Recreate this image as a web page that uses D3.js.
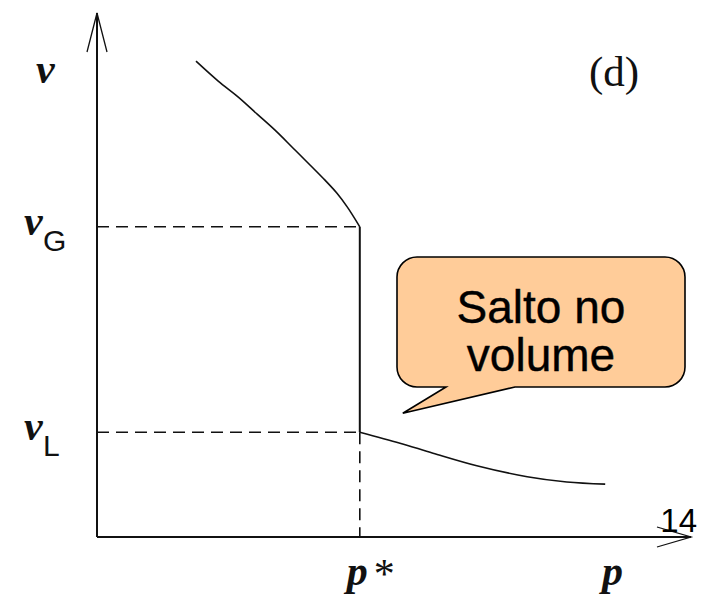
<!DOCTYPE html>
<html>
<head>
<meta charset="utf-8">
<script src="https://cdn.jsdelivr.net/npm/d3@7/dist/d3.min.js"></script>
<style>
  html, body { margin: 0; padding: 0; background: #fff; }
  svg { display: block; }
</style>
</head>
<body>
<svg id="chart" width="701" height="605"></svg>
<script>
// p–v diagram: gas branch above the transition pressure, liquid branch below it,
// with the vertical jump in volume at p*.
const gasP = [16.5, 20.2, 23.5, 26.7, 29.8, 32.7, 35.5, 38.0, 40.0, 41.7, 43.8];
const gasV = [90.8, 87.0, 84.0, 80.7, 77.5, 74.2, 71.0, 68.1, 65.6, 63.0, 59.2];
const liquidP = [43.8, 50.5, 56.0, 63.3, 71.7, 78.3, 84.7];
const liquidV = [20.0, 17.9, 16.0, 13.6, 11.5, 10.5, 10.1];
const pStar = 43.8;
const vGas = 59.2;
const vLiquid = 20.0;
const calloutLines = ["Salto no", "volume"];
const panelTag = "(d)";
const slideNumber = "14";

const svg = d3.select("#chart");

const x = d3.scaleLinear().domain([0, 100]).range([97, 697]);
const y = d3.scaleLinear().domain([0, 100]).range([537, 13]);

const ink = "#111";

// axes (plain lines with open arrow heads)
svg.append("line")
  .attr("x1", x(0)).attr("y1", y(0)).attr("x2", x(0)).attr("y2", y(100))
  .attr("stroke", ink).attr("stroke-width", 2);
svg.append("line")
  .attr("x1", x(0)).attr("y1", y(0)).attr("x2", x(99)).attr("y2", y(0))
  .attr("stroke", ink).attr("stroke-width", 2);

const arrowY = d3.path();
arrowY.moveTo(x(0) - 10, y(100) + 39); arrowY.lineTo(x(0), y(100)); arrowY.lineTo(x(0) + 10, y(100) + 39);
svg.append("path").attr("d", arrowY.toString()).attr("fill", "none")
  .attr("stroke", ink).attr("stroke-width", 1.3);

const arrowX = d3.path();
arrowX.moveTo(x(99) - 34, y(0) - 10); arrowX.lineTo(x(99), y(0)); arrowX.lineTo(x(99) - 34, y(0) + 10);
svg.append("path").attr("d", arrowX.toString()).attr("fill", "none")
  .attr("stroke", ink).attr("stroke-width", 1.3);

// dashed guide lines
const dash = "12,7";
svg.append("line")
  .attr("x1", x(0)).attr("y1", y(vGas)).attr("x2", x(pStar)).attr("y2", y(vGas))
  .attr("stroke", ink).attr("stroke-width", 1.6).attr("stroke-dasharray", dash);
svg.append("line")
  .attr("x1", x(0)).attr("y1", y(vLiquid)).attr("x2", x(pStar)).attr("y2", y(vLiquid))
  .attr("stroke", ink).attr("stroke-width", 1.6).attr("stroke-dasharray", dash);
svg.append("line")
  .attr("x1", x(pStar)).attr("y1", y(vLiquid)).attr("x2", x(pStar)).attr("y2", y(0))
  .attr("stroke", ink).attr("stroke-width", 1.6).attr("stroke-dasharray", dash);

// isotherm branches and the jump
const line = d3.line().x(d => x(d[0])).y(d => y(d[1])).curve(d3.curveCatmullRom.alpha(0.5));
svg.append("path")
  .attr("d", line(gasP.map((p, i) => [p, gasV[i]])))
  .attr("fill", "none").attr("stroke", ink).attr("stroke-width", 1.6);
svg.append("path")
  .attr("d", line(liquidP.map((p, i) => [p, liquidV[i]])))
  .attr("fill", "none").attr("stroke", ink).attr("stroke-width", 1.6);
svg.append("line")
  .attr("x1", x(pStar)).attr("y1", y(vGas)).attr("x2", x(pStar)).attr("y2", y(vLiquid))
  .attr("stroke", ink).attr("stroke-width", 2);

// axis labels
const serif = "'Liberation Serif', 'Times New Roman', serif";
const sans = "'Liberation Sans', Arial, sans-serif";

function vLabel(xPos, yBase, sub) {
  svg.append("text")
    .attr("x", xPos).attr("y", yBase)
    .attr("font-family", serif).attr("font-style", "italic").attr("font-weight", "bold")
    .attr("font-size", 42).attr("fill", ink).text("v");
  if (sub) {
    svg.append("text")
      .attr("x", xPos + 19).attr("y", yBase + 16)
      .attr("font-family", sans).attr("font-size", 30).attr("fill", ink).text(sub);
  }
}
vLabel(36, 83, null);
vLabel(24, y(vGas) + 8, "G");
vLabel(24, y(vLiquid) + 8, "L");

svg.append("text")
  .attr("x", x(pStar) - 13).attr("y", 585)
  .attr("font-family", serif).attr("font-style", "italic").attr("font-weight", "bold")
  .attr("font-size", 42).attr("fill", ink).text("p");
svg.append("text")
  .attr("x", x(pStar) + 14).attr("y", 588)
  .attr("font-family", serif).attr("font-size", 42).attr("fill", ink).text("*");
svg.append("text")
  .attr("x", 602).attr("y", 585)
  .attr("font-family", serif).attr("font-style", "italic").attr("font-weight", "bold")
  .attr("font-size", 42).attr("fill", ink).text("p");

svg.append("text")
  .attr("x", 589).attr("y", 86)
  .attr("font-family", serif).attr("font-size", 43).attr("fill", ink).text(panelTag);

svg.append("text")
  .attr("x", 697).attr("y", 532).attr("text-anchor", "end")
  .attr("font-family", sans).attr("font-size", 33).attr("fill", "#000").text(slideNumber);

// callout bubble
const bx0 = 397, by0 = 257, bx1 = 685, by1 = 387, r = 20;
const tipX = x(pStar) + 43, tipY = y(vLiquid) - 19;
const bubble = d3.path();
bubble.moveTo(bx0 + r, by0);
bubble.lineTo(bx1 - r, by0);
bubble.arcTo(bx1, by0, bx1, by0 + r, r);
bubble.lineTo(bx1, by1 - r);
bubble.arcTo(bx1, by1, bx1 - r, by1, r);
bubble.lineTo(515, by1);
bubble.lineTo(tipX, tipY);
bubble.lineTo(446, by1);
bubble.lineTo(bx0 + r, by1);
bubble.arcTo(bx0, by1, bx0, by1 - r, r);
bubble.lineTo(bx0, by0 + r);
bubble.arcTo(bx0, by0, bx0 + r, by0, r);
bubble.closePath();
svg.append("path").attr("d", bubble.toString())
  .attr("fill", "#FFCC99").attr("stroke", "#000").attr("stroke-width", 1.6);

svg.selectAll("text.callout").data(calloutLines).enter().append("text")
  .attr("class", "callout")
  .attr("x", 541).attr("y", (d, i) => 323 + i * 48)
  .attr("text-anchor", "middle")
  .attr("font-family", sans).attr("font-size", 46).attr("fill", "#000")
  .attr("stroke", "#000").attr("stroke-width", 0.4)
  .text(d => d);
</script>
</body>
</html>
